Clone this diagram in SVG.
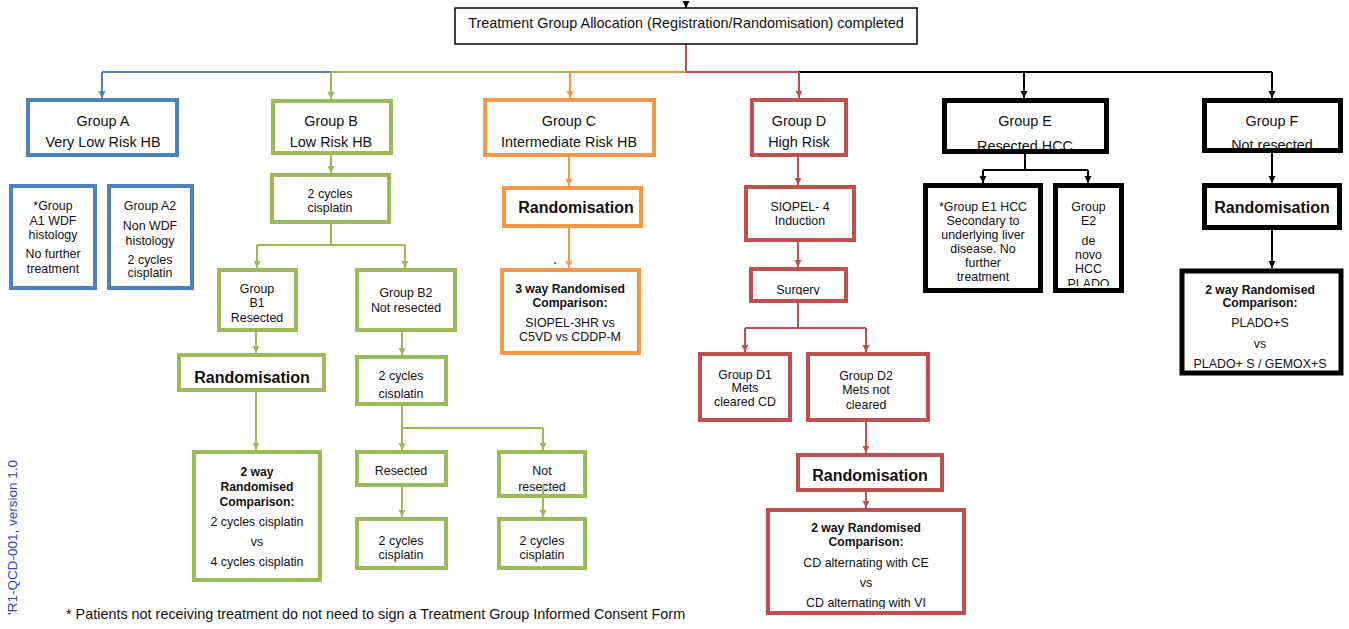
<svg xmlns="http://www.w3.org/2000/svg" width="1349" height="629" viewBox="0 0 1349 629">
<style>
text{font-family:"Liberation Sans",Arial,sans-serif;fill:#111;text-anchor:middle}
.t14{font-size:14.4px}
.t12{font-size:12.4px}
.b16{font-size:16px;font-weight:bold}
.b12{font-size:12.2px;font-weight:bold}
rect{fill:#fff}
.bl{stroke:#4F81BD;stroke-width:4;fill:#fff}
.gr{stroke:#9BBB59;stroke-width:4;fill:#fff}
.or{stroke:#F79646;stroke-width:4;fill:#fff}
.rd{stroke:#C0504D;stroke-width:4;fill:#fff}
.bk{stroke:#000;stroke-width:5;fill:#fff}
.cb{stroke:#4F81BD;stroke-width:2;fill:none}
.cg{stroke:#9BBB59;stroke-width:2;fill:none}
.co{stroke:#F79646;stroke-width:2;fill:none}
.cr{stroke:#C0504D;stroke-width:2;fill:none}
.ck{stroke:#000;stroke-width:2;fill:none}
</style>
<defs>
<marker id="aB" markerUnits="userSpaceOnUse" markerWidth="8" markerHeight="8" refX="7" refY="3.5" orient="auto"><path d="M0,0 L7,3.5 L0,7 z" fill="#4F81BD"/></marker>
<marker id="aG" markerUnits="userSpaceOnUse" markerWidth="8" markerHeight="8" refX="7" refY="3.5" orient="auto"><path d="M0,0 L7,3.5 L0,7 z" fill="#9BBB59"/></marker>
<marker id="aO" markerUnits="userSpaceOnUse" markerWidth="8" markerHeight="8" refX="7" refY="3.5" orient="auto"><path d="M0,0 L7,3.5 L0,7 z" fill="#F79646"/></marker>
<marker id="aR" markerUnits="userSpaceOnUse" markerWidth="8" markerHeight="8" refX="7" refY="3.5" orient="auto"><path d="M0,0 L7,3.5 L0,7 z" fill="#C0504D"/></marker>
<marker id="aK" markerUnits="userSpaceOnUse" markerWidth="8" markerHeight="8" refX="7" refY="3.5" orient="auto"><path d="M0,0 L7,3.5 L0,7 z" fill="#000"/></marker>
<clipPath id="clB2c"><rect x="355" y="355" width="95" height="43"/></clipPath>
<clipPath id="clSurg"><rect x="749" y="267" width="100" height="28"/></clipPath>
<clipPath id="clE"><rect x="942" y="98" width="168" height="52"/></clipPath>
<clipPath id="clF"><rect x="1202" y="98" width="142" height="51"/></clipPath>
<clipPath id="clE2"><rect x="1053" y="183" width="72" height="103"/></clipPath>
<clipPath id="clD2w"><rect x="766" y="508" width="200" height="101"/></clipPath>
</defs>

<g id="connectors">
  <path class="ck" d="M686,1 V8" stroke-width="1.5" marker-end="url(#aK)"/>
  <path class="cr" d="M686,44 V72"/>
  <path class="cb" d="M102,72 H331"/>
  <path class="cg" d="M331,72 H570"/>
  <path class="co" d="M570,72 H686"/>
  <path class="cr" d="M686,72 H799"/>
  <path class="ck" d="M799,72 H1272"/>
  <path class="cb" d="M102,72 V98" marker-end="url(#aB)"/>
  <path class="cg" d="M331,72 V99" marker-end="url(#aG)"/>
  <path class="co" d="M570,72 V98" marker-end="url(#aO)"/>
  <path class="cr" d="M799,72 V98" marker-end="url(#aR)"/>
  <path class="ck" d="M1024,72 V98" marker-end="url(#aK)"/>
  <path class="ck" d="M1272,72 V98" marker-end="url(#aK)"/>
  <!-- B -->
  <path class="cg" d="M331,155 V173" marker-end="url(#aG)"/>
  <path class="cg" d="M331,224 V245 M257,245 H405"/>
  <path class="cg" d="M257,245 V268" marker-end="url(#aG)"/>
  <path class="cg" d="M405,245 V268" marker-end="url(#aG)"/>
  <path class="cg" d="M256,332 V353" marker-end="url(#aG)"/>
  <path class="cg" d="M256,392 V450" marker-end="url(#aG)"/>
  <path class="cg" d="M402,332 V355" marker-end="url(#aG)"/>
  <path class="cg" d="M402,406 V428 H543"/>
  <path class="cg" d="M402,428 V450" marker-end="url(#aG)"/>
  <path class="cg" d="M543,428 V450" marker-end="url(#aG)"/>
  <path class="cg" d="M402,487 V517" marker-end="url(#aG)"/>
  <!-- C -->
  <path class="co" d="M569,157 V186" marker-end="url(#aO)"/>
  <path class="co" d="M569,228 V268" marker-end="url(#aO)"/>
  <!-- D -->
  <path class="cr" d="M798,157 V185" marker-end="url(#aR)"/>
  <path class="cr" d="M798,242 V267" marker-end="url(#aR)"/>
  <path class="cr" d="M798,303 V328 M745,328 H866"/>
  <path class="cr" d="M745,328 V352" marker-end="url(#aR)"/>
  <path class="cr" d="M866,328 V352" marker-end="url(#aR)"/>
  <path class="cr" d="M866,422 V453" marker-end="url(#aR)"/>
  <path class="cr" d="M866,492 V508" marker-end="url(#aR)"/>
  <!-- E -->
  <path class="ck" d="M1025,154 V170 M983,170 H1088"/>
  <path class="ck" d="M983,170 V183" marker-end="url(#aK)"/>
  <path class="ck" d="M1088,170 V183" marker-end="url(#aK)"/>
  <!-- F -->
  <path class="ck" d="M1272,153 V183" marker-end="url(#aK)"/>
  <path class="ck" d="M1272,230 V268" marker-end="url(#aK)"/>
</g>

<g id="top">
  <rect x="455" y="8" width="462" height="36" fill="#fff" stroke="#000" stroke-width="1.5"/>
  <text class="t14" x="686" y="28">Treatment Group Allocation (Registration/Randomisation) completed</text>
</g>

<g id="groupA">
  <rect class="bl" x="28" y="100" width="149" height="55"/>
  <text class="t14" x="103" y="126">Group A</text>
  <text class="t14" x="103" y="147">Very Low Risk HB</text>
</g>
<g id="groupA1">
  <rect class="bl" x="11" y="186" width="84" height="102" stroke-width="3.5"/>
  <text class="t12" x="53" y="210">*Group</text>
  <text class="t12" x="53" y="225">A1 WDF</text>
  <text class="t12" x="53" y="239">histology</text>
  <text class="t12" x="53" y="258">No further</text>
  <text class="t12" x="53" y="273">treatment</text>
</g>
<g id="groupA2">
  <rect class="bl" x="109" y="186" width="83" height="102" stroke-width="3.5"/>
  <text class="t12" x="150" y="210">Group A2</text>
  <text class="t12" x="150" y="230">Non WDF</text>
  <text class="t12" x="150" y="245">histology</text>
  <text class="t12" x="150" y="264">2 cycles</text>
  <text class="t12" x="150" y="277">cisplatin</text>
</g>

<g id="groupB">
  <rect class="gr" x="273" y="101" width="118" height="52"/>
  <text class="t14" x="331" y="126">Group B</text>
  <text class="t14" x="331" y="147">Low Risk HB</text>
</g>
<g id="b-cis1">
  <rect class="gr" x="272" y="175" width="117" height="47"/>
  <text class="t12" x="330" y="198">2 cycles</text>
  <text class="t12" x="330" y="212">cisplatin</text>
</g>
<g id="groupB1">
  <rect class="gr" x="219" y="270" width="77" height="60"/>
  <text class="t12" x="257" y="293">Group</text>
  <text class="t12" x="257" y="307">B1</text>
  <text class="t12" x="257" y="322">Resected</text>
</g>
<g id="groupB2">
  <rect class="gr" x="357" y="270" width="98" height="60"/>
  <text class="t12" x="406" y="297">Group B2</text>
  <text class="t12" x="406" y="312">Not resected</text>
</g>
<g id="b-rand">
  <rect class="gr" x="179" y="355" width="145" height="35"/>
  <text class="b16" x="252" y="383">Randomisation</text>
</g>
<g id="b-2way">
  <rect class="gr" x="194" y="452" width="126" height="128"/>
  <text class="b12" x="257" y="476">2 way</text>
  <text class="b12" x="257" y="491">Randomised</text>
  <text class="b12" x="257" y="506">Comparison:</text>
  <text class="t12" x="257" y="526">2 cycles cisplatin</text>
  <text class="t12" x="257" y="546">vs</text>
  <text class="t12" x="257" y="566">4 cycles cisplatin</text>
</g>
<g id="b2-cis">
  <rect class="gr" x="357" y="357" width="89" height="47"/>
  <g clip-path="url(#clB2c)">
    <text class="t12" x="401" y="380">2 cycles</text>
    <text class="t12" x="401" y="398">cisplatin</text>
  </g>
</g>
<g id="b2-resected">
  <rect class="gr" x="357" y="452" width="89" height="33"/>
  <text class="t12" x="401" y="475">Resected</text>
</g>
<g id="b2-res-cis">
  <rect class="gr" x="357" y="519" width="89" height="49"/>
  <text class="t12" x="401" y="545">2 cycles</text>
  <text class="t12" x="401" y="559">cisplatin</text>
</g>
<g id="b2-notres">
  <rect class="gr" x="499" y="452" width="86" height="44"/>
  <text class="t12" x="542" y="475">Not</text>
  <text class="t12" x="542" y="491">resected</text>
</g>
<g id="b2-notres-cis">
  <rect class="gr" x="499" y="519" width="86" height="49"/>
  <text class="t12" x="542" y="545">2 cycles</text>
  <text class="t12" x="542" y="559">cisplatin</text>
</g>
<g id="b2-overlay-connector">
  <path class="cg" d="M543,484 V517" marker-end="url(#aG)"/>
</g>

<g id="groupC">
  <rect class="or" x="485" y="100" width="169" height="55"/>
  <text class="t14" x="569" y="126">Group C</text>
  <text class="t14" x="569" y="147">Intermediate Risk HB</text>
</g>
<g id="c-rand">
  <rect class="or" x="504" y="188" width="137" height="38"/>
  <text class="b16" x="576" y="213">Randomisation</text>
</g>
<circle cx="555" cy="263" r="1" fill="#3344dd"/>
<g id="c-3way">
  <rect class="or" x="502" y="270" width="137" height="83"/>
  <text class="b12" x="570" y="293">3 way Randomised</text>
  <text class="b12" x="570" y="307">Comparison:</text>
  <text class="t12" x="570" y="327">SIOPEL-3HR vs</text>
  <text class="t12" x="570" y="341">C5VD vs CDDP-M</text>
</g>

<g id="groupD">
  <rect class="rd" x="752" y="100" width="94" height="55"/>
  <text class="t14" x="799" y="126">Group D</text>
  <text class="t14" x="799" y="147">High Risk</text>
</g>
<g id="d-siopel">
  <rect class="rd" x="746" y="187" width="108" height="53"/>
  <text class="t12" x="800" y="211">SIOPEL- 4</text>
  <text class="t12" x="800" y="225">Induction</text>
</g>
<g id="d-surgery">
  <rect class="rd" x="751" y="269" width="95" height="32"/>
  <text class="t12" x="798" y="294" clip-path="url(#clSurg)">Surgery</text>
</g>
<g id="groupD1">
  <rect class="rd" x="700" y="354" width="90" height="66"/>
  <text class="t12" x="745" y="379">Group D1</text>
  <text class="t12" x="745" y="392">Mets</text>
  <text class="t12" x="745" y="406">cleared CD</text>
</g>
<g id="groupD2">
  <rect class="rd" x="808" y="354" width="120" height="66"/>
  <text class="t12" x="866" y="380">Group D2</text>
  <text class="t12" x="866" y="394">Mets not</text>
  <text class="t12" x="866" y="409">cleared</text>
</g>
<g id="d-rand">
  <rect class="rd" x="798" y="455" width="144" height="35"/>
  <text class="b16" x="870" y="481">Randomisation</text>
</g>
<g id="d-2way">
  <rect class="rd" x="768" y="510" width="196" height="103"/>
  <g clip-path="url(#clD2w)">
    <text class="b12" x="866" y="532">2 way Randomised</text>
    <text class="b12" x="866" y="546">Comparison:</text>
    <text class="t12" x="866" y="567">CD alternating with CE</text>
    <text class="t12" x="866" y="587">vs</text>
    <text class="t12" x="866" y="607">CD alternating with VI</text>
  </g>
</g>

<g id="groupE">
  <rect class="bk" x="944.5" y="100.5" width="162" height="51"/>
  <text class="t14" x="1025" y="126">Group E</text>
  <text class="t14" x="1025" y="151" clip-path="url(#clE)">Resected HCC</text>
</g>
<g id="groupE1">
  <rect class="bk" x="925.5" y="185.5" width="115" height="105"/>
  <text class="t12" x="983" y="211">*Group E1 HCC</text>
  <text class="t12" x="983" y="225">Secondary to</text>
  <text class="t12" x="983" y="239">underlying liver</text>
  <text class="t12" x="983" y="253">disease. No</text>
  <text class="t12" x="983" y="267">further</text>
  <text class="t12" x="983" y="281">treatment</text>
</g>
<g id="groupE2">
  <rect class="bk" x="1055.5" y="185.5" width="66" height="105"/>
  <g clip-path="url(#clE2)">
    <text class="t12" x="1088.5" y="211">Group</text>
    <text class="t12" x="1088.5" y="225">E2</text>
    <text class="t12" x="1088.5" y="245">de</text>
    <text class="t12" x="1088.5" y="259">novo</text>
    <text class="t12" x="1088.5" y="273">HCC</text>
    <text class="t12" x="1088.5" y="288">PLADO</text>
  </g>
</g>

<g id="groupF">
  <rect class="bk" x="1204.5" y="100.5" width="136" height="50"/>
  <text class="t14" x="1272" y="126">Group F</text>
  <text class="t14" x="1272" y="150" clip-path="url(#clF)">Not resected</text>
</g>
<g id="f-rand">
  <rect class="bk" x="1204.5" y="185.5" width="135" height="42" stroke-width="4.5"/>
  <text class="b16" x="1272" y="213">Randomisation</text>
</g>
<g id="f-2way">
  <rect class="bk" x="1182" y="271" width="159" height="102" stroke-width="4.5"/>
  <text class="b12" x="1260" y="294">2 way Randomised</text>
  <text class="b12" x="1260" y="307">Comparison:</text>
  <text class="t12" x="1260" y="327">PLADO+S</text>
  <text class="t12" x="1260" y="348">vs</text>
  <text class="t12" x="1260" y="368">PLADO+ S / GEMOX+S</text>
</g>

<g id="footnote">
  <text class="t14" x="66" y="619" style="text-anchor:start">* Patients not receiving treatment do not need to sign a Treatment Group Informed Consent Form</text>
</g>
<g id="margin">
  <text x="0" y="0" transform="translate(16.5,460) rotate(-90)" style="font-size:13.5px;fill:#2244cc;text-anchor:end">'R1-QCD-001, version 1.0</text>
</g>
</svg>
